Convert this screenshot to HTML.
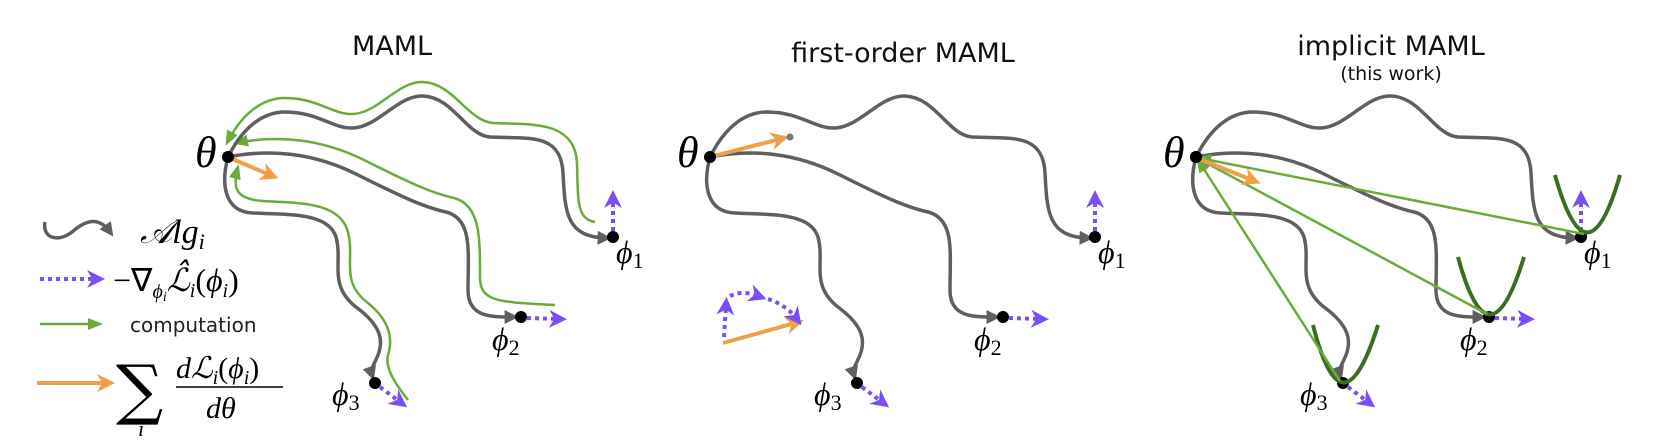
<!DOCTYPE html>
<html><head><meta charset="utf-8"><style>
html,body{margin:0;padding:0;background:#fff;}
svg{display:block}
.t{font-family:"DejaVu Sans","Liberation Sans",sans-serif;fill:#111}
.m{font-family:"Liberation Serif",serif;font-style:italic;fill:#000}
</style></head><body>
<svg width="1667" height="444" viewBox="0 0 1667 444" xmlns="http://www.w3.org/2000/svg">
<defs>
<marker id="ag" viewBox="0 0 10 10" refX="6" refY="5" markerWidth="4" markerHeight="4" orient="auto"><path d="M0,0 L10,5 L0,10 z" fill="#5f5f5f"/></marker>
<marker id="ap" viewBox="0 0 10 10" refX="5" refY="5" markerWidth="4.5" markerHeight="4.5" orient="auto"><path d="M0,0 L10,5 L0,10 L3,5 z" fill="#7b4ef5"/></marker>
<marker id="ao" viewBox="0 0 10 10" refX="5" refY="5" markerWidth="4.5" markerHeight="4.5" orient="auto"><path d="M0,0 L10,5 L0,10 L3,5 z" fill="#ef9f45"/></marker>
<marker id="agr" viewBox="0 0 10 10" refX="8" refY="5" markerWidth="6" markerHeight="6" orient="auto-start-reverse"><path d="M0,1 L10,5 L0,9 z" fill="#6aab3a"/></marker>
<g id="paths" fill="none" stroke="#5f5f5f" stroke-width="3.5">
<path d="M0,0 C15,-30 35,-45 57,-45 C90,-45 105,-28 125,-29 C150,-30 170,-62 195,-61 C225,-60 238,-22 262,-20 C300,-18 333,-25 335,16 C337,55 338,80 378,81" marker-end="url(#ag)"/>
<path d="M0,0 C40,-8 85,-5 130,18 C170,38 195,50 218,55 C245,62 240,95 240,133 C240,160 262,160 285,160" marker-end="url(#ag)"/>
<path d="M0,0 C-8,30 -2,55 25,56 C60,58 100,55 108,80 C115,105 100,128 128,150 C155,170 155,185 150,198 C146,208 142,212 144,218" marker-end="url(#ag)"/>
</g>
<g id="ends">
<circle cx="0" cy="0" r="6" fill="#000"/>
<circle cx="385" cy="80" r="6" fill="#000"/>
<circle cx="293" cy="160" r="6" fill="#000"/>
<circle cx="147" cy="226" r="6" fill="#000"/>
<g stroke="#7b4ef5" stroke-width="4" stroke-dasharray="4,4" fill="none">
<path d="M385,74 L385,42" marker-end="url(#ap)"/>
<path d="M299,161 L330,162" marker-end="url(#ap)"/>
<path d="M152,230 L172,245" marker-end="url(#ap)"/>
</g>
<text class="m" x="-33" y="10" font-size="44">θ</text>
<text class="m" x="388" y="106" font-size="32">ϕ<tspan font-size="22" dy="5" font-style="normal">1</tspan></text>
<text class="m" x="264" y="193" font-size="32">ϕ<tspan font-size="22" dy="5" font-style="normal">2</tspan></text>
<text class="m" x="104" y="248" font-size="32">ϕ<tspan font-size="22" dy="5" font-style="normal">3</tspan></text>
</g>
</defs>

<text class="t" x="392" y="55" font-size="27" text-anchor="middle">MAML</text>
<text class="t" x="903" y="62" font-size="27" text-anchor="middle">first-order MAML</text>
<text class="t" x="1391" y="55" font-size="27" text-anchor="middle">implicit MAML</text>
<text class="t" x="1391" y="80" font-size="19" text-anchor="middle" fill="#333">(this work)</text>

<!-- LEFT PANEL -->
<g transform="translate(228,157)">
<g fill="none" stroke="#6aab3a" stroke-width="2.5">
<path d="M-1,-14 C14,-44 35,-59 57,-59 C90,-59 105,-42 125,-43 C150,-44 170,-76 195,-75 C225,-74 240,-36 265,-34 C300,-32 347,-38 349,6 C350,45 349,62 367,65" marker-start="url(#agr)"/>
<path d="M8,-14 C48,-22 93,-19 138,4 C178,24 203,36 226,41 C253,48 252,83 252,121 C252,146 275,145 327,148" marker-start="url(#agr)"/>
<path d="M10,10 C4,32 8,42 35,44 C72,46 112,45 120,75 C127,103 112,125 140,146 C167,168 163,188 160,198 C158,206 160,218 180,243" marker-start="url(#agr)"/>
</g>
<use href="#paths"/>
<path d="M0,0 L42,18" stroke="#ef9f45" stroke-width="4" marker-end="url(#ao)"/>
<use href="#ends"/>
</g>

<!-- MIDDLE PANEL -->
<g transform="translate(710,157)">
<use href="#paths"/>
<path d="M0,0 L70,-18" stroke="#ef9f45" stroke-width="4" marker-end="url(#ao)"/>
<circle cx="80" cy="-20" r="3.5" fill="#777"/>
<use href="#ends"/>
</g>
<g fill="none" stroke-width="4">
<path d="M723,343 L795,323" stroke="#ef9f45" marker-end="url(#ao)"/>
<g stroke="#7b4ef5" stroke-dasharray="4,4">
<path d="M724,337 L726,306" marker-end="url(#ap)"/>
<path d="M730,296 C740,291 750,293 758,296" marker-end="url(#ap)"/>
<path d="M768,299 C780,303 790,310 796,318" marker-end="url(#ap)"/>
</g>
</g>

<!-- RIGHT PANEL -->
<g transform="translate(1196,157)">
<use href="#paths"/>
<use href="#ends"/>
</g>
<g fill="none" stroke="#3c6e22" stroke-width="4">
<path d="M1555,175 Q1587,290 1620,175"/>
<path d="M1458,257 Q1489,372 1524,257"/>
<path d="M1313,325 Q1342,440 1378,325"/>
</g>
<g stroke="#6aab3a" stroke-width="2.5" fill="none">
<path d="M1584,234 L1199,158" marker-end="url(#agr)"/>
<path d="M1487,314 L1199,159" marker-end="url(#agr)"/>
<path d="M1340,381 L1198,160" marker-end="url(#agr)"/>
</g>
<path d="M1197,158 L1252,180" stroke="#ef9f45" stroke-width="4" marker-end="url(#ao)"/>
<circle cx="1196" cy="157" r="6" fill="#000"/>

<!-- LEGEND -->
<path d="M45,222 C42,238 58,243 72,232 C88,218 100,218 110,232" fill="none" stroke="#5f5f5f" stroke-width="3.5" marker-end="url(#ag)"/>
<text class="m" x="140" y="243" font-size="34">𝒜lg<tspan font-size="22" dy="6">i</tspan></text>
<path d="M40,279 L96,279" stroke="#7b4ef5" stroke-width="4" stroke-dasharray="4,4" marker-end="url(#ap)"/>
<text class="m" x="113" y="291" font-size="32"><tspan font-style="normal">−∇</tspan><tspan font-size="20" dy="7">ϕ</tspan><tspan font-size="14" dy="3">i</tspan><tspan dy="-10">ℒ̂</tspan><tspan font-size="20" dy="6">i</tspan><tspan dy="-6" font-style="normal">(</tspan>ϕ<tspan font-size="20" dy="6">i</tspan><tspan dy="-6" font-style="normal">)</tspan></text>
<path d="M40,324 L100,324" stroke="#6aab3a" stroke-width="2.5" marker-end="url(#agr)"/>
<text x="130" y="332" font-size="20" font-family="DejaVu Sans,sans-serif" fill="#222">computation</text>
<path d="M37,383 L106,383" stroke="#ef9f45" stroke-width="4" marker-end="url(#ao)"/>
<text x="116" y="412" font-size="66" font-family="DejaVu Serif,serif" fill="#000">∑</text>
<text class="m" x="138" y="436" font-size="22">i</text>
<text class="m" x="176" y="378" font-size="30">dℒ<tspan font-size="20" dy="6">i</tspan><tspan dy="-6" font-style="normal">(</tspan>ϕ<tspan font-size="20" dy="6">i</tspan><tspan dy="-6" font-style="normal">)</tspan></text>
<line x1="176" y1="387" x2="283" y2="387" stroke="#000" stroke-width="1.5"/>
<text class="m" x="206" y="418" font-size="30">dθ</text>
</svg>
</body></html>
